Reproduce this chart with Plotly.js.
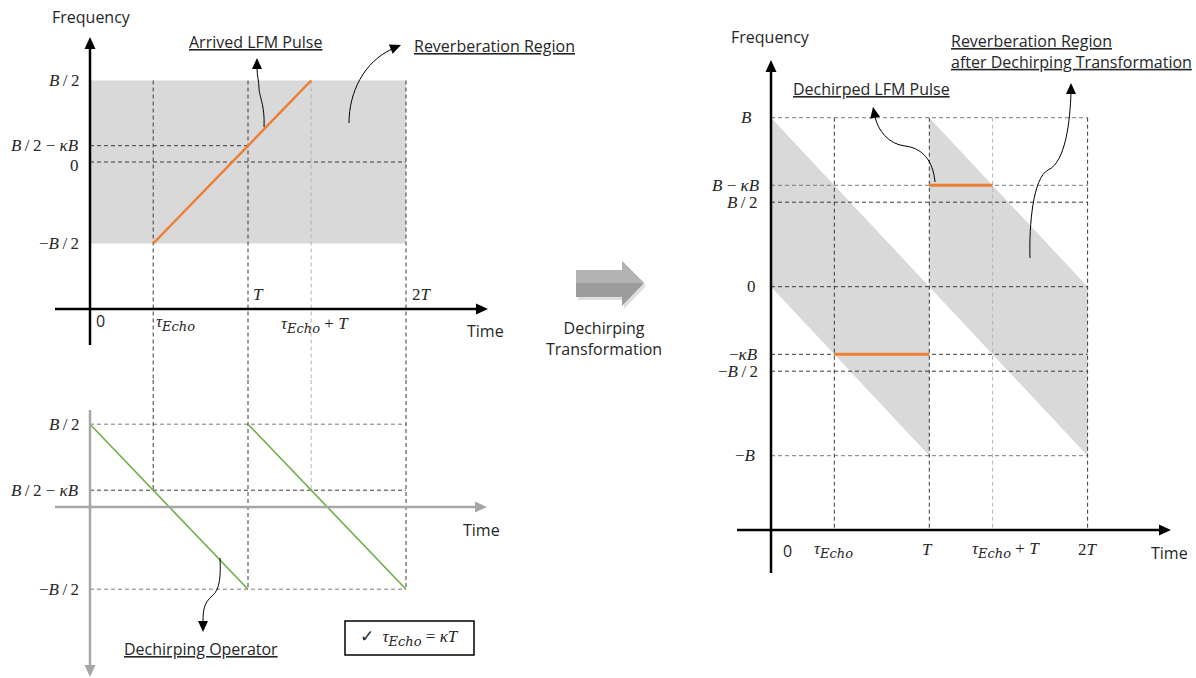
<!DOCTYPE html>
<html><head><meta charset="utf-8">
<script src="https://cdn.plot.ly/plotly-3.0.1.min.js"></script>
<style>html,body{margin:0;padding:0;background:#fff}#chart{width:1196px;height:678px}</style>
</head><body><div id="chart"></div>
<script>
const W = 1196, H = 678;

// ---------- data (time in units of T, frequency in units of B, kappa = 0.4) ----------
const SUB = '<sub><span style="font-family:DejaVu Serif;font-size:13px"><i>Echo</i></span></sub>';
const timeTicks = [0, 0.4, 1, 1.4, 2];
const timeTickLabels = ['0', '<i>τ</i>' + SUB, '<i>T</i>', '<i>τ</i>' + SUB + ' + <i>T</i>', '2<i>T</i>'];

const arrivedFreqTicks = [0.5, 0.1, 0, -0.5];
const arrivedFreqLabels = ['<i>B</i>\u2009/\u20092', '<i>B</i>\u2009/\u20092 − <i>κB</i>', '0', '−<i>B</i>\u2009/\u20092'];

const operatorFreqTicks = [0.5, 0.1, -0.5];
const operatorFreqLabels = ['<i>B</i>\u2009/\u20092', '<i>B</i>\u2009/\u20092 − <i>κB</i>', '−<i>B</i>\u2009/\u20092'];

const dechirpedFreqTicks = [1, 0.6, 0.5, 0, -0.4, -0.5, -1];
const dechirpedFreqLabels = ['<i>B</i>', '<i>B</i> − <i>κB</i>', '<i>B</i>\u2009/\u20092', '0', '−<i>κB</i>', '−<i>B</i>\u2009/\u20092', '−<i>B</i>'];

const reverbTime = [0, 2, 2, 0, 0];
const reverbFreq = [0.5, 0.5, -0.5, -0.5, 0.5];
const arrivedPulseTime = [0.4, 1.4];
const arrivedPulseFreq = [-0.5, 0.5];

const operatorTime1 = [0, 1];
const operatorFreq1 = [0.5, -0.5];
const operatorTime2 = [1, 2];
const operatorFreq2 = [0.5, -0.5];

const dechirpReverb1Time = [0, 1, 1, 0, 0];
const dechirpReverb1Freq = [1, 0, -1, 0, 1];
const dechirpReverb2Time = [1, 2, 2, 1, 1];
const dechirpReverb2Freq = [1, 0, -1, 0, 1];
const dechirpedPulse1Time = [1, 1.4];
const dechirpedPulse1Freq = [0.6, 0.6];
const dechirpedPulse2Time = [0.4, 1];
const dechirpedPulse2Freq = [-0.4, -0.4];

// ---------- geometry / styles ----------
const panels = {
  tl: {xd: [20, 520], yd: [20, 380], x0: 90, xs: 158, y0: 162, ys: 163, ax: ''},
  bl: {xd: [20, 520], yd: [380, 678], x0: 90, xs: 158, y0: 506.7, ys: 165, ax: '2'},
  r:  {xd: [700, 1196], yd: [20, 678], x0: 771, xs: 158.3, y0: 286.7, ys: 169, ax: '3'}
};
function xr(p){ return [(p.xd[0]-p.x0)/p.xs, (p.xd[1]-p.x0)/p.xs]; }
function yr(p){ return [(p.y0-p.yd[1])/p.ys, (p.y0-p.yd[0])/p.ys]; }
const PX = x => x / W, PY = y => 1 - y / H;

const SHADE = '#d9d9d9', ORANGE = '#ed7d31', GREEN = '#70ad47';
const DARK = '#3a3a3a', MID = '#7a7a7a', LIGHT = '#b5b5b5', AXGRAY = '#a6a6a6';
const MATH = {family: 'Liberation Serif, DejaVu Serif, serif', size: 17, color: '#262626'};
const UI = {family: 'Open Sans, Noto Sans, sans-serif', size: 16, color: '#262626'};

const traces = [];
function tr(p, x, y, extra){ traces.push(Object.assign({x: x, y: y, xaxis: 'x'+p.ax, yaxis: 'y'+p.ax, mode: 'lines', hoverinfo: 'skip', showlegend: false}, extra)); }
function guide(p, x, y, color){ tr(p, x, y, {line: {color: color, width: 1, dash: '4px,3px'}}); }

const tl = panels.tl, bl = panels.bl, rp = panels.r;

// ---------- top-left: arrived pulse ----------
tr(tl, reverbTime, reverbFreq, {fill: 'toself', fillcolor: SHADE, line: {width: 0, color: SHADE}});
const tlBottom = yr(tl)[0];
guide(tl, [0, timeTicks[2]], [arrivedFreqTicks[1], arrivedFreqTicks[1]], DARK);
guide(tl, [0, timeTicks[4]], [arrivedFreqTicks[2], arrivedFreqTicks[2]], DARK);
[[1, DARK], [2, DARK], [3, LIGHT], [4, DARK]].forEach(([i, c]) =>
  guide(tl, [timeTicks[i], timeTicks[i]], [arrivedFreqTicks[0], tlBottom], c));
tr(tl, arrivedPulseTime, arrivedPulseFreq, {line: {color: ORANGE, width: 2.5}});

// ---------- bottom-left: dechirping operator ----------
const blTop = yr(bl)[1];
guide(bl, [0, timeTicks[4]], [operatorFreqTicks[0], operatorFreqTicks[0]], MID);
guide(bl, [0, timeTicks[4]], [operatorFreqTicks[1], operatorFreqTicks[1]], DARK);
guide(bl, [0, timeTicks[4]], [operatorFreqTicks[2], operatorFreqTicks[2]], MID);
guide(bl, [timeTicks[1], timeTicks[1]], [blTop, operatorFreqTicks[1]], DARK);
guide(bl, [timeTicks[2], timeTicks[2]], [blTop, operatorFreqTicks[2]], DARK);
guide(bl, [timeTicks[3], timeTicks[3]], [blTop, operatorFreqTicks[1]], LIGHT);
guide(bl, [timeTicks[4], timeTicks[4]], [blTop, operatorFreqTicks[2]], DARK);
tr(bl, operatorTime1, operatorFreq1, {line: {color: GREEN, width: 1.6}});
tr(bl, operatorTime2, operatorFreq2, {line: {color: GREEN, width: 1.6}});

// ---------- right: dechirped ----------
const rAxisF = (rp.y0 - 530) / rp.ys;
tr(rp, dechirpReverb1Time, dechirpReverb1Freq, {fill: 'toself', fillcolor: SHADE, line: {width: 0, color: SHADE}});
tr(rp, dechirpReverb2Time, dechirpReverb2Freq, {fill: 'toself', fillcolor: SHADE, line: {width: 0, color: SHADE}});
const rHColors = [MID, MID, DARK, DARK, DARK, DARK, MID];
dechirpedFreqTicks.forEach((f, i) => guide(rp, [0, timeTicks[4]], [f, f], rHColors[i]));
[[1, DARK], [2, DARK], [3, LIGHT], [4, DARK]].forEach(([i, c]) =>
  guide(rp, [timeTicks[i], timeTicks[i]], [dechirpedFreqTicks[0], rAxisF], c));
tr(rp, dechirpedPulse1Time, dechirpedPulse1Freq, {line: {color: ORANGE, width: 3}});
tr(rp, dechirpedPulse2Time, dechirpedPulse2Freq, {line: {color: ORANGE, width: 3}});

// ---------- annotations ----------
const ann = [];
function lab(p, x, y, text, o){ ann.push(Object.assign({xref: 'x'+p.ax, yref: 'y'+p.ax, x: x, y: y, text: text, showarrow: false, font: MATH}, o)); }
function ptext(x, y, text, o){ ann.push(Object.assign({xref: 'paper', yref: 'paper', x: PX(x), y: PY(y), text: text, showarrow: false, font: UI, xanchor: 'center', yanchor: 'middle'}, o)); }

// top-left tick labels
arrivedFreqTicks.forEach((f, i) => lab(tl, 0, f, arrivedFreqLabels[i], {xanchor: 'right', xshift: -9, yshift: f === 0 ? -4 : 0}));
const tlAxisF = (tl.y0 - 309) / tl.ys;
lab(tl, timeTicks[0], tlAxisF, timeTickLabels[0], {font: UI, xanchor: 'left', xshift: 4, yshift: -12});
lab(tl, timeTicks[1], tlAxisF, timeTickLabels[1], {xanchor: 'left', xshift: 1, yshift: -14});
lab(tl, timeTicks[2], tlAxisF, timeTickLabels[2], {xanchor: 'left', xshift: 3, yshift: 15});
lab(tl, timeTicks[3], tlAxisF, timeTickLabels[3], {xanchor: 'center', xshift: 4, yshift: -16});
lab(tl, timeTicks[4], tlAxisF, timeTickLabels[4], {xanchor: 'left', xshift: 4, yshift: 15});

// bottom-left tick labels
operatorFreqTicks.forEach((f, i) => lab(bl, 0, f, operatorFreqLabels[i], {xanchor: 'right', xshift: -9}));

// right tick labels
const rShift = [-17, -9, -12, -13, -11, -11, -13];
dechirpedFreqTicks.forEach((f, i) => lab(rp, 0, f, dechirpedFreqLabels[i], {xanchor: 'right', xshift: rShift[i]}));
lab(rp, timeTicks[0], rAxisF, timeTickLabels[0], {font: UI, xanchor: 'center', xshift: 16, yshift: -21});
lab(rp, timeTicks[1], rAxisF, timeTickLabels[1], {xanchor: 'center', xshift: -1, yshift: -20});
lab(rp, timeTicks[2], rAxisF, timeTickLabels[2], {xanchor: 'center', xshift: -2, yshift: -19});
lab(rp, timeTicks[3], rAxisF, timeTickLabels[3], {xanchor: 'center', xshift: 13, yshift: -20});
lab(rp, timeTicks[4], rAxisF, timeTickLabels[4], {xanchor: 'center', xshift: 0, yshift: -19});

// axis titles and callouts
const U = s => '<span style="text-decoration:underline">' + s + '</span>';
ptext(91, 17, 'Frequency');
ptext(485, 331, 'Time');
ptext(481, 530, 'Time');
ptext(770, 37, 'Frequency');
ptext(1169, 553, 'Time');
ptext(255, 42, U('Arrived LFM Pulse'));
ptext(494, 46, U('Reverberation Region'));
ptext(201, 649, U('Dechirping Operator'));
ptext(871, 89, U('Dechirped LFM Pulse'));
ptext(949, 52, U('Reverberation Region') + '<br>' + U('after Dechirping Transformation'), {xanchor: 'left', align: 'left'});
ptext(604, 338, 'Dechirping<br>Transformation');
ptext(409, 638, '✓  <i>τ</i>' + SUB + ' = <i>κT</i>', {font: MATH});

// ---------- shapes ----------
function path(cmds){ return cmds.map(c => c[0] + ' ' + c.slice(1).map((v, i) => (i % 2 === 0 ? PX(v) : PY(v)).toFixed(5)).join(' ')).join(' '); }
const shapes = [];
function curve(cmds){ shapes.push({type: 'path', xref: 'paper', yref: 'paper', path: path(cmds), line: {color: '#000', width: 1}}); }
function head(tx, ty, dx, dy, len, hw, color){
  const n = Math.hypot(dx, dy), ux = dx / n, uy = dy / n;
  const bx = tx - ux * len, by = ty - uy * len;
  shapes.push({type: 'path', xref: 'paper', yref: 'paper', fillcolor: color, line: {width: 0},
    path: path([['M', tx, ty], ['L', bx - uy * hw, by + ux * hw], ['L', bx + uy * hw, by - ux * hw], ['Z']])});
}
function axisArrow(x0, y0, x1, y1, color){ // tail -> tip (pixels)
  const len = 12, n = Math.hypot(x1 - x0, y1 - y0);
  const ex = x1 - (x1 - x0) / n * (len - 2), ey = y1 - (y1 - y0) / n * (len - 2);
  shapes.push({type: 'line', xref: 'paper', yref: 'paper', x0: PX(x0), y0: PY(y0), x1: PX(ex), y1: PY(ey), line: {color: color, width: 2.5}});
  head(x1, y1, x1 - x0, y1 - y0, len, 5.5, color);
}
axisArrow(90, 345, 90, 37, '#000');
axisArrow(55, 309, 488, 309, '#000');
axisArrow(55, 507, 487, 507, AXGRAY);
axisArrow(90, 410, 90, 677, AXGRAY);
axisArrow(771, 573, 771, 60, '#000');
axisArrow(737, 530, 1171, 530, '#000');

curve([['M', 264, 127], ['C', 265, 105, 259, 96, 259, 88], ['C', 259, 82, 257, 76, 257, 68]]);
head(257, 58, 0, -1, 11, 5, '#000');
curve([['M', 349, 123], ['C', 349, 92, 364, 62, 392, 49]]);
head(401, 45, 10, -4, 11, 5, '#000');
curve([['M', 220, 558], ['C', 221, 580, 219, 590, 212, 596], ['C', 204, 603, 203, 610, 203, 622]]);
head(203, 632, 0, 1, 11, 5, '#000');
curve([['M', 935, 182], ['C', 933, 160, 922, 148, 905, 146], ['C', 888, 144, 878, 130, 875, 117]]);
head(873, 107, -2, -10, 11, 5, '#000');
curve([['M', 1030, 258], ['C', 1029, 225, 1033, 178, 1048, 170], ['C', 1066, 162, 1070, 120, 1071, 93]]);
head(1071, 83, 0, -1, 11, 5, '#000');

// block arrow with a simple two-tone shading and soft shadow
const blockArrow = [['M', 576, 270], ['L', 622, 270], ['L', 622, 261], ['L', 644, 283], ['L', 622, 306], ['L', 622, 297], ['L', 576, 297], ['Z']];
const shadowArrow = blockArrow.map(c => c.length > 1 ? [c[0], c[1] + 2, c[2] + 3] : c);
shapes.push({type: 'path', xref: 'paper', yref: 'paper', path: path(shadowArrow), fillcolor: '#dedede', line: {width: 0}, layer: 'below'});
shapes.push({type: 'path', xref: 'paper', yref: 'paper', path: path(blockArrow), fillcolor: '#9c9c9c', line: {width: 0}});
shapes.push({type: 'path', xref: 'paper', yref: 'paper', path: path([['M', 576, 270], ['L', 622, 270], ['L', 622, 261], ['L', 644, 283], ['L', 576, 283], ['Z']]), fillcolor: '#b3b3b3', line: {width: 0}});
shapes.push({type: 'rect', xref: 'paper', yref: 'paper', x0: PX(345), x1: PX(474), y0: PY(655), y1: PY(621), line: {color: '#000', width: 1.5}});

// ---------- layout ----------
const layout = {
  width: W, height: H, margin: {l: 0, r: 0, t: 0, b: 0},
  paper_bgcolor: '#fff', plot_bgcolor: 'rgba(0,0,0,0)', showlegend: false,
  annotations: ann, shapes: shapes
};
[tl, bl, rp].forEach(p => {
  layout['xaxis' + p.ax] = {domain: [p.xd[0]/W, p.xd[1]/W], range: xr(p), visible: false, fixedrange: true, anchor: 'y' + p.ax};
  layout['yaxis' + p.ax] = {domain: [1 - p.yd[1]/H, 1 - p.yd[0]/H], range: yr(p), visible: false, fixedrange: true, anchor: 'x' + p.ax};
});

Plotly.newPlot('chart', traces, layout, {staticPlot: true});
</script></body></html>
